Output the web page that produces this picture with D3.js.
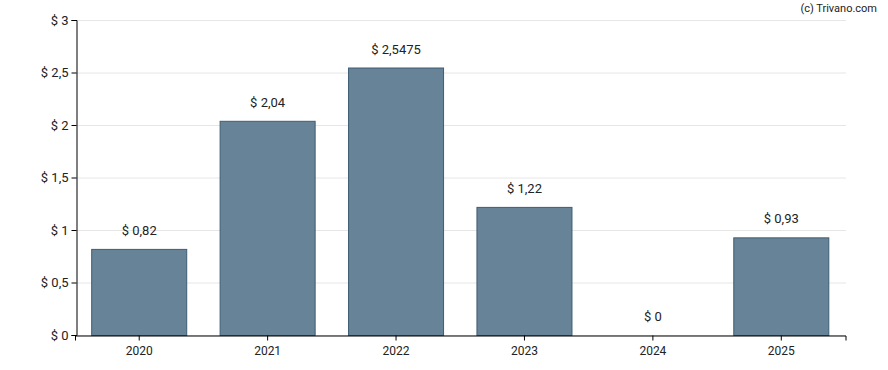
<!DOCTYPE html>
<html>
<head>
<meta charset="utf-8">
<script src="https://cdn.jsdelivr.net/npm/d3@7"></script>
<style>
  body { margin: 0; background: #fff; }
  text { font-family: Roboto, "Noto Sans", sans-serif; fill: #222; }
</style>
</head>
<body>
<svg id="chart"></svg>
<script>
const years = ['2020', '2021', '2022', '2023', '2024', '2025']
const dividends = [0.82, 2.04, 2.5475, 1.22, 0, 0.93]
const valueLabels = ['$ 0,82', '$ 2,04', '$ 2,5475', '$ 1,22', '$ 0', '$ 0,93']
const yTicks = [0, 0.5, 1, 1.5, 2, 2.5, 3]

let width = 888
let height = 370
let margin = { top: 20, right: 42, bottom: 35, left: 76 }

let svg = d3.select('#chart')
  .attr('width', width)
  .attr('height', height)

let x = d3.scaleBand()
  .domain(years)
  .range([margin.left - 1, width - margin.right - 0.5])
  .paddingInner(0.26)
  .paddingOuter(0.13)

let y = d3.scaleLinear()
  .domain([0, 3])
  .range([height - margin.bottom, margin.top])

let fmt = d => '$ ' + String(d).replace('.', ',')

// gridlines
svg.append('g')
  .selectAll('line')
  .data(yTicks)
  .enter()
  .append('line')
  .attr('x1', margin.left)
  .attr('x2', width - margin.right)
  .attr('y1', d => y(d) + 0.5)
  .attr('y2', d => y(d) + 0.5)
  .attr('stroke', '#e6e6e6')
  .attr('stroke-width', 1)

// bars
svg.append('g')
  .selectAll('rect')
  .data(dividends)
  .enter()
  .append('rect')
  .attr('x', (d, i) => x(years[i]))
  .attr('y', d => y(d) + 0.5)
  .attr('width', x.bandwidth())
  .attr('height', d => y(0) - y(d))
  .attr('fill', '#668397')
  .attr('stroke', '#3f5d73')
  .attr('stroke-width', 1)
  .style('display', d => d > 0 ? null : 'none')

// value labels
svg.append('g')
  .selectAll('text')
  .data(dividends)
  .enter()
  .append('text')
  .attr('x', (d, i) => x(years[i]) + x.bandwidth() / 2)
  .attr('y', d => y(d) - 14)
  .attr('text-anchor', 'middle')
  .attr('font-size', 13)
  .text((d, i) => valueLabels[i])

// axes
let xAxis = svg.append('g')
  .attr('transform', `translate(0,${y(0) + 0.5})`)
  .call(d3.axisBottom(x).tickSizeOuter(0).tickSize(5))
xAxis.selectAll('text').attr('font-size', 12).attr('dy', '0.95em')
xAxis.select('.domain').attr('stroke', '#000')

let yAxis = svg.append('g')
  .attr('transform', `translate(${margin.left + 0.5},0)`)
  .call(d3.axisLeft(y).tickValues(yTicks).tickFormat(fmt).tickSizeOuter(0).tickSize(5))
yAxis.selectAll('text').attr('font-size', 13)
yAxis.select('.domain').attr('stroke', '#000')
svg.selectAll('.tick text').attr('font-family', 'Roboto, sans-serif').attr('fill', '#222')

svg.append('text')
  .attr('x', 877)
  .attr('y', 12)
  .attr('text-anchor', 'end')
  .attr('font-size', 11)
  .text('(c) Trivano.com')
</script>
</body>
</html>
